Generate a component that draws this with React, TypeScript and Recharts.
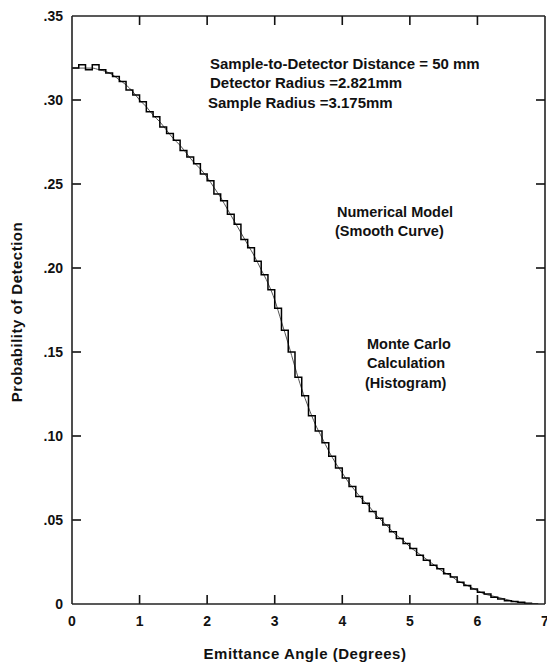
import React from 'react';
import { ComposedChart, Line, XAxis, YAxis, ReferenceLine } from 'recharts';

// Emittance angle grid (degrees) — left edge of each histogram bin / sample points of the model
const ANGLES = [
  0.0, 0.1, 0.2, 0.3, 0.4, 0.5, 0.6, 0.7, 0.8, 0.9,
  1.0, 1.1, 1.2, 1.3, 1.4, 1.5, 1.6, 1.7, 1.8, 1.9,
  2.0, 2.1, 2.2, 2.3, 2.4, 2.5, 2.6, 2.7, 2.8, 2.9,
  3.0, 3.1, 3.2, 3.3, 3.4, 3.5, 3.6, 3.7, 3.8, 3.9,
  4.0, 4.1, 4.2, 4.3, 4.4, 4.5, 4.6, 4.7, 4.8, 4.9,
  5.0, 5.1, 5.2, 5.3, 5.4, 5.5, 5.6, 5.7, 5.8, 5.9,
  6.0, 6.1, 6.2, 6.3, 6.4, 6.5, 6.6, 6.7, 6.8, 6.9,
];

// Numerical model (smooth curve)
const MODEL = [
  0.319, 0.319, 0.319, 0.319, 0.318, 0.317, 0.315, 0.312, 0.309, 0.305,
  0.300, 0.296, 0.291, 0.287, 0.282, 0.277, 0.273, 0.268, 0.263, 0.259,
  0.254, 0.248, 0.242, 0.235, 0.228, 0.221, 0.214, 0.207, 0.199, 0.191,
  0.181, 0.168, 0.155, 0.141, 0.128, 0.117, 0.107, 0.099, 0.091, 0.084,
  0.078, 0.072, 0.067, 0.062, 0.058, 0.053, 0.049, 0.045, 0.041, 0.038,
  0.034, 0.031, 0.028, 0.025, 0.022, 0.019, 0.017, 0.014, 0.012, 0.010,
  0.008, 0.006, 0.005, 0.004, 0.003, 0.002, 0.001, 0.0005, 0.0,
];

// Monte Carlo calculation (histogram bin heights)
const MONTE_CARLO = [
  0.319, 0.321, 0.318, 0.321, 0.318, 0.316, 0.314, 0.311, 0.306, 0.303,
  0.299, 0.293, 0.290, 0.284, 0.280, 0.276, 0.270, 0.266, 0.262, 0.256,
  0.252, 0.244, 0.240, 0.232, 0.226, 0.217, 0.212, 0.204, 0.196, 0.187,
  0.176, 0.163, 0.150, 0.135, 0.124, 0.112, 0.103, 0.096, 0.088, 0.081,
  0.075, 0.070, 0.064, 0.060, 0.055, 0.051, 0.047, 0.043, 0.039, 0.036,
  0.033, 0.029, 0.026, 0.023, 0.021, 0.018, 0.016, 0.013, 0.011, 0.009,
  0.007, 0.006, 0.004, 0.003, 0.002, 0.0015, 0.001, 0.0005, 0.0, 0.0,
];

const X_TICKS = [0, 1, 2, 3, 4, 5, 6, 7];
const X_INNER_TICKS = [1, 2, 3, 4, 5, 6];
const Y_TICKS = [0, 0.05, 0.1, 0.15, 0.2, 0.25, 0.3, 0.35];
const Y_INNER_TICKS = [0.05, 0.1, 0.15, 0.2, 0.25, 0.3];
const Y_TICK_LABELS = ['0', '.05', '.10', '.15', '.20', '.25', '.30', '.35'];

const X_MIN = 0;
const X_MAX = 7;
const Y_MIN = 0;
const Y_MAX = 0.35;

const INFO_LINES = [
  'Sample-to-Detector Distance = 50 mm',
  'Detector Radius =2.821mm',
  'Sample Radius =3.175mm',
];
const MODEL_LABEL = ['Numerical Model', '(Smooth Curve)'];
const MC_LABEL = ['Monte Carlo', 'Calculation', '(Histogram)'];

const modelData = MODEL.map((p, i) => ({ angle: ANGLES[i], p }));
const mcData = MONTE_CARLO.map((p, i) => ({ angle: ANGLES[i], p }));

const FONT = '"Liberation Sans", Arial, Helvetica, sans-serif';
const INK = '#111';
// chart geometry
const W = 547;
const H = 662;
const MARGIN = { top: 16, right: 2, bottom: 0, left: 0 };
const Y_AXIS_W = 72;
const X_AXIS_H = 58;
const PLOT_W = W - MARGIN.left - MARGIN.right - Y_AXIS_W;
const PLOT_H = H - MARGIN.top - MARGIN.bottom - X_AXIS_H;
const TICK_PX = 9;
// tick mark lengths in data units (so the library's scales place them)
const TICK_DX = (TICK_PX / PLOT_W) * (X_MAX - X_MIN);
const TICK_DY = (TICK_PX / PLOT_H) * (Y_MAX - Y_MIN);

const axisLineStyle = { stroke: '#222', strokeWidth: 1.6 };
const TICK_STROKE = '#111';
const TICK_W = 1.6;

const BottomLabel = (props: any) => {
  const { x, y, payload } = props;
  return (
    <text x={x} y={y + 20} textAnchor="middle" fontSize={14} fontWeight="bold" fill={INK} stroke="none" fontFamily={FONT}>
      {payload.value}
    </text>
  );
};

const LeftLabel = (props: any) => {
  const { x, y, payload } = props;
  const i = Y_TICKS.indexOf(Number(payload.value));
  const label = i >= 0 ? Y_TICK_LABELS[i] : String(payload.value);
  return (
    <text x={x - 7} y={y + 5} textAnchor="end" fontSize={14} fontWeight="bold" fill={INK} stroke="none" fontFamily={FONT}>
      {label}
    </text>
  );
};

const textStyle = {
  fontFamily: FONT,
  fontWeight: 'bold' as const,
  fill: INK,
};

export default function App() {
  const refProps = { xAxisId: 'b', yAxisId: 'l', ifOverflow: 'visible' as const };
  return (
    <div style={{ position: 'absolute', left: 0, top: 0, width: W, height: H, background: '#fff' }}>
      <ComposedChart width={W} height={H} margin={MARGIN}>
        <XAxis
          xAxisId="b"
          dataKey="angle"
          type="number"
          domain={[X_MIN, X_MAX]}
          ticks={X_TICKS}
          interval={0}
          height={X_AXIS_H}
          tickSize={1}
          tickMargin={1}
          tickLine={false}
          axisLine={axisLineStyle}
          tick={<BottomLabel />}
          allowDataOverflow
        />
        <YAxis
          yAxisId="l"
          type="number"
          domain={[Y_MIN, Y_MAX]}
          ticks={Y_TICKS}
          interval={0}
          width={Y_AXIS_W}
          tickSize={1}
          tickMargin={1}
          tickLine={false}
          axisLine={axisLineStyle}
          tick={<LeftLabel />}
          allowDataOverflow
        />
        {/* frame: top and right edges */}
        <ReferenceLine {...refProps} y={Y_MAX} stroke="#222" strokeWidth={1.6} />
        <ReferenceLine {...refProps} x={X_MAX} stroke="#222" strokeWidth={1.6} />
        {/* inward tick marks on bottom and top */}
        {X_INNER_TICKS.map((t) => (
          <ReferenceLine
            key={`xb${t}`}
            {...refProps}
            segment={[{ x: t, y: Y_MIN }, { x: t, y: Y_MIN + TICK_DY }]}
            stroke={TICK_STROKE}
            strokeWidth={TICK_W}
          />
        ))}
        {X_INNER_TICKS.map((t) => (
          <ReferenceLine
            key={`xt${t}`}
            {...refProps}
            segment={[{ x: t, y: Y_MAX }, { x: t, y: Y_MAX - TICK_DY }]}
            stroke={TICK_STROKE}
            strokeWidth={TICK_W}
          />
        ))}
        {/* inward tick marks on left and right */}
        {Y_INNER_TICKS.map((t) => (
          <ReferenceLine
            key={`yl${t}`}
            {...refProps}
            segment={[{ x: X_MIN, y: t }, { x: X_MIN + TICK_DX, y: t }]}
            stroke={TICK_STROKE}
            strokeWidth={TICK_W}
          />
        ))}
        {Y_INNER_TICKS.map((t) => (
          <ReferenceLine
            key={`yr${t}`}
            {...refProps}
            segment={[{ x: X_MAX, y: t }, { x: X_MAX - TICK_DX, y: t }]}
            stroke={TICK_STROKE}
            strokeWidth={TICK_W}
          />
        ))}
        <Line
          xAxisId="b"
          yAxisId="l"
          data={modelData}
          dataKey="p"
          type="monotone"
          stroke="#555"
          strokeWidth={1}
          dot={false}
          activeDot={false}
          isAnimationActive={false}
        />
        <Line
          xAxisId="b"
          yAxisId="l"
          data={mcData}
          dataKey="p"
          type="stepAfter"
          stroke="#000"
          strokeWidth={1.5}
          dot={false}
          activeDot={false}
          isAnimationActive={false}
        />
        {INFO_LINES.map((s, i) => (
          <text key={s} x={[210, 210, 208][i]} y={[69, 88, 108][i]} fontSize={15} {...textStyle}>
            {s}
          </text>
        ))}
        {MODEL_LABEL.map((s, i) => (
          <text key={s} x={[337, 335][i]} y={[217, 236][i]} fontSize={14.5} {...textStyle}>
            {s}
          </text>
        ))}
        {MC_LABEL.map((s, i) => (
          <text key={s} x={[367, 367, 365][i]} y={[349, 368, 388][i]} fontSize={14.5} {...textStyle}>
            {s}
          </text>
        ))}
        <text x={305} y={659} textAnchor="middle" fontSize={15} letterSpacing={0.5} {...textStyle}>
          Emittance Angle (Degrees)
        </text>
        <text
          x={22}
          y={312}
          textAnchor="middle"
          fontSize={15}
          letterSpacing={0.5}
          transform="rotate(-90 22 312)"
          {...textStyle}
        >
          Probability of Detection
        </text>
      </ComposedChart>
    </div>
  );
}
